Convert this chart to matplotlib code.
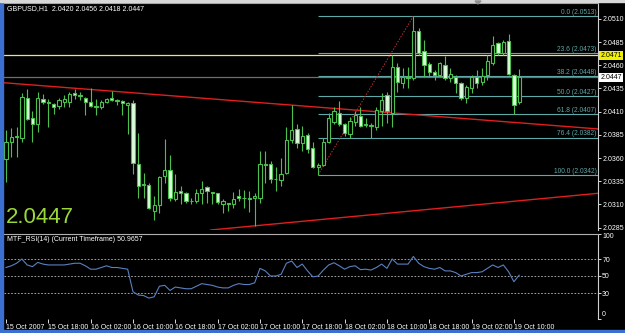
import numpy as np
import matplotlib.pyplot as plt
import matplotlib.transforms as mtransforms
from matplotlib.patches import Rectangle, Polygon

# GBPUSD H1, first bar 15 Oct 2007 10:00
opens = [2.0359, 2.0377, 2.0383, 2.0382, 2.0425, 2.0403, 2.0397, 2.0424, 2.0420, 2.0418,
         2.0416, 2.0420, 2.0420, 2.0430, 2.0428, 2.0425, 2.0420, 2.0416, 2.0415, 2.0420,
         2.0425, 2.0423, 2.0422, 2.0417, 2.0419, 2.0354, 2.0331, 2.0331, 2.0303, 2.0309,
         2.0341, 2.0347, 2.0316, 2.0324, 2.0322, 2.0314, 2.0314, 2.0322, 2.0329, 2.0323,
         2.0322, 2.0311, 2.0312, 2.0311, 2.0319, 2.0317, 2.0317, 2.0317, 2.0317, 2.0354,
         2.0354, 2.0337, 2.0336, 2.0344, 2.0379, 2.0391, 2.0376, 2.0385, 2.0371, 2.0350,
         2.0353, 2.0377, 2.0399, 2.0409, 2.0397, 2.0386, 2.0399, 2.0405, 2.0397, 2.0396,
         2.0393, 2.0411, 2.0428, 2.0409, 2.0458, 2.0441, 2.0447, 2.0446, 2.0497, 2.0475,
         2.0461, 2.0453, 2.0449, 2.0460, 2.0446, 2.0447, 2.0441, 2.0425, 2.0436, 2.0447,
         2.0442, 2.0449, 2.0462, 2.0484, 2.0473, 2.0486, 2.0449, 2.0420]
highs = [2.0390, 2.0392, 2.0393, 2.0430, 2.0434, 2.0411, 2.0431, 2.0429, 2.0424, 2.0419,
         2.0425, 2.0428, 2.0431, 2.0434, 2.0431, 2.0426, 2.0435, 2.0424, 2.0423, 2.0425,
         2.0432, 2.0424, 2.0423, 2.0420, 2.0423, 2.0387, 2.0344, 2.0333, 2.0319, 2.0341,
         2.0381, 2.0363, 2.0343, 2.0330, 2.0323, 2.0317, 2.0327, 2.0335, 2.0330, 2.0323,
         2.0322, 2.0316, 2.0312, 2.0323, 2.0327, 2.0326, 2.0325, 2.0322, 2.0368, 2.0368,
         2.0357, 2.0350, 2.0360, 2.0393, 2.0417, 2.0397, 2.0395, 2.0387, 2.0377, 2.0355,
         2.0382, 2.0409, 2.0415, 2.0422, 2.0398, 2.0404, 2.0411, 2.0415, 2.0403, 2.0398,
         2.0415, 2.0430, 2.0431, 2.0471, 2.0462, 2.0457, 2.0458, 2.0513, 2.0500, 2.0487,
         2.0463, 2.0455, 2.0463, 2.0470, 2.0457, 2.0449, 2.0442, 2.0439, 2.0449, 2.0455,
         2.0457, 2.0471, 2.0492, 2.0485, 2.0487, 2.0494, 2.0451, 2.0456]
lows = [2.0334, 2.0361, 2.0361, 2.0377, 2.0401, 2.0377, 2.0388, 2.0418, 2.0393, 2.0408,
        2.0413, 2.0415, 2.0415, 2.0424, 2.0423, 2.0406, 2.0415, 2.0406, 2.0413, 2.0419,
        2.0422, 2.0417, 2.0406, 2.0386, 2.0343, 2.0317, 2.0317, 2.0305, 2.0293, 2.0301,
        2.0333, 2.0314, 2.0314, 2.0311, 2.0312, 2.0311, 2.0312, 2.0311, 2.0312, 2.0311,
        2.0311, 2.0301, 2.0303, 2.0306, 2.0314, 2.0306, 2.0302, 2.0287, 2.0312, 2.0333,
        2.0333, 2.0325, 2.0330, 2.0343, 2.0376, 2.0371, 2.0368, 2.0365, 2.0349, 2.0342,
        2.0352, 2.0376, 2.0397, 2.0395, 2.0384, 2.0382, 2.0395, 2.0393, 2.0393, 2.0382,
        2.0390, 2.0395, 2.0398, 2.0393, 2.0431, 2.0436, 2.0436, 2.0444, 2.0471, 2.0447,
        2.0447, 2.0444, 2.0447, 2.0444, 2.0442, 2.0430, 2.0423, 2.0419, 2.0430, 2.0435,
        2.0439, 2.0444, 2.0460, 2.0471, 2.0471, 2.0449, 2.0407, 2.0418]
closes = [2.0377, 2.0383, 2.0384, 2.0426, 2.0402, 2.0397, 2.0425, 2.0420, 2.0419, 2.0415,
          2.0423, 2.0424, 2.0429, 2.0428, 2.0427, 2.0420, 2.0416, 2.0415, 2.0420, 2.0424,
          2.0423, 2.0422, 2.0419, 2.0419, 2.0355, 2.0330, 2.0332, 2.0306, 2.0309, 2.0340,
          2.0347, 2.0317, 2.0323, 2.0322, 2.0314, 2.0314, 2.0322, 2.0327, 2.0324, 2.0322,
          2.0313, 2.0314, 2.0311, 2.0316, 2.0317, 2.0317, 2.0316, 2.0319, 2.0354, 2.0353,
          2.0337, 2.0337, 2.0343, 2.0379, 2.0390, 2.0376, 2.0384, 2.0370, 2.0350, 2.0353,
          2.0377, 2.0403, 2.0411, 2.0397, 2.0387, 2.0400, 2.0406, 2.0395, 2.0396, 2.0395,
          2.0412, 2.0423, 2.0411, 2.0458, 2.0442, 2.0447, 2.0446, 2.0497, 2.0473, 2.0460,
          2.0453, 2.0450, 2.0462, 2.0446, 2.0451, 2.0441, 2.0425, 2.0437, 2.0447, 2.0441,
          2.0448, 2.0465, 2.0482, 2.0473, 2.0485, 2.0451, 2.0417, 2.0447]

rsi = [60, 62, 65, 70, 63, 61, 66, 64, 63, 63,
       63, 63, 64, 65, 65, 62, 58, 58, 60, 62,
       60, 60, 59, 58, 31.5, 27.6, 27, 24, 25.5, 38,
       39, 33, 37, 36, 35, 35, 38, 41, 40, 39,
       37, 36, 36, 39, 41, 40, 40, 42, 59, 56,
       50, 50, 52, 65, 67.6, 60, 64, 56, 49, 50,
       57, 63, 65.6, 62, 58, 61, 62, 57.5, 58, 57,
       60, 64, 59, 70, 64, 64, 64, 73, 65, 61,
       59, 58, 60, 56, 56, 54, 50, 52, 54, 54,
       55, 59, 63, 60, 63, 55, 43.3, 50.9657]

time_ticks = [0, 8, 16, 24, 32, 40, 48, 56, 64, 72, 80, 88, 96]
time_labels = ['15 Oct 2007', '15 Oct 18:00', '16 Oct 02:00', '16 Oct 10:00', '16 Oct 18:00',
               '17 Oct 02:00', '17 Oct 10:00', '17 Oct 18:00', '18 Oct 02:00', '18 Oct 10:00',
               '18 Oct 18:00', '19 Oct 02:00', '19 Oct 10:00']
price_ticks = [2.0285, 2.0310, 2.0335, 2.0360, 2.0385, 2.0410, 2.0435, 2.0460, 2.0485, 2.0510]

fib_start, fib_end = (59, 2.0342), (77, 2.0513)
fib_pcts = ['0.0', '23.6', '38.2', '50.0', '61.8', '76.4', '100.0']
fib_prices = [2.0513, 2.0473, 2.0448, 2.0427, 2.0407, 2.0382, 2.0342]
upper_trend = [(0, 2.0441), (97, 2.0398)]
lower_trend = [(47, 2.0287), (97, 2.0314)]
ask_line = 2.0471
bid_line = 2.0447

CANDLE = '#4cc04c'
BEAR_FILL = '#dcfadc'
FIB = '#5fa8a8'
W, H = 625, 333

plt.rcParams['font.family'] = ['Liberation Sans', 'DejaVu Sans']


def fx(px):
    return px / W


def fy(py):
    return 1 - py / H


fig = plt.figure(figsize=(6.25, 3.33), dpi=100, facecolor='black')

# main price panel
ax = fig.add_axes([fx(4), fy(230), fx(598) - fx(4), fy(3) - fy(230)])
ax.set_facecolor('black')
x = np.arange(len(closes))
o, h, l, c = map(np.array, (opens, highs, lows, closes))
up = c >= o

ax.axhline(bid_line, color='#6e6e6e', lw=0.9, zorder=1)
ax.axhline(ask_line, color='#e4e48c', lw=0.9, zorder=1)
ax.hlines(fib_prices, fib_start[0], 120, color=FIB, lw=0.8, zorder=1)
for pct, p in zip(fib_pcts, fib_prices):
    ax.text(111.6, p + 0.00003, f'{pct} ({p:.4f})', color=FIB, fontsize=4.8,
            ha='right', va='bottom')
ax.plot([fib_start[0], fib_end[0]], [fib_start[1], fib_end[1]], color='#c03030',
        lw=0.7, ls=(0, (1.5, 1.5)), zorder=1.5)
ax.axline(upper_trend[0], upper_trend[1], color='#e01e1e', lw=1.0, zorder=1.5)
ax.axline(lower_trend[0], lower_trend[1], color='#e01e1e', lw=1.0, zorder=1.5)

ax.vlines(x, l, h, color=CANDLE, lw=0.8, zorder=2)
ax.bar(x[up], c[up] - o[up], bottom=o[up], width=0.62, facecolor='black',
       edgecolor=CANDLE, lw=0.8, zorder=3)
ax.bar(x[~up], o[~up] - c[~up], bottom=c[~up], width=0.62, facecolor=BEAR_FILL,
       edgecolor=CANDLE, lw=0.8, zorder=3)

ax.set_xlim(-0.38, 111.9)
ax.set_ylim(2.02825, 2.05271)
ax.set_xticks([])
ax.yaxis.tick_right()
ax.set_yticks(price_ticks)
ax.set_yticklabels([f'{p:.4f}' for p in price_ticks])
ax.tick_params(axis='y', colors='white', length=2, width=0.6, pad=1, labelsize=5)
for side in ['left', 'bottom']:
    ax.spines[side].set_visible(False)
ax.spines['top'].set_color('#9a9a9a')
ax.spines['right'].set_color('#d0d0d0')
ax.spines['right'].set_linewidth(0.8)

blend = mtransforms.blended_transform_factory(ax.transAxes, ax.transData)
ax.text(1.004, ask_line, f'{ask_line:.4f}', transform=blend, fontsize=5, color='black',
        va='center', ha='left', bbox=dict(boxstyle='square,pad=0.15', fc='#f0f000', ec='none'))
ax.text(1.004, bid_line, f'{bid_line:.4f}', transform=blend, fontsize=5, color='black',
        va='center', ha='left', bbox=dict(boxstyle='square,pad=0.15', fc='white', ec='none'))

fig.text(fx(7), fy(5), f'GBPUSD,H1  {opens[-1]:.4f} {highs[-1]:.4f} {lows[-1]:.4f} {closes[-1]:.4f}',
         color='white', fontsize=5, va='top', ha='left')
fig.text(fx(6), fy(228), f'{closes[-1]:.4f}', color='#9ad83a', fontsize=16,
         va='bottom', ha='left')

# RSI panel
ax2 = fig.add_axes([fx(4), fy(318.5), fx(598) - fx(4), fy(233.5) - fy(318.5)])
ax2.set_facecolor('black')
for lvl in [70, 50, 30]:
    ax2.axhline(lvl, color='#bdbdbd', lw=0.6, ls=(0, (2, 2)))
ax2.plot(x, rsi, color='#5a80c0', lw=0.8)
ax2.set_xlim(-0.38, 111.9)
ax2.set_ylim(0, 100)
ax2.yaxis.tick_right()
ax2.set_yticks([100, 70, 50, 30, 0])
ax2.set_yticklabels(['100', '70', '50', '30', '0'])
ylabs = ax2.get_yticklabels()
ylabs[0].set_va('top')
ylabs[-1].set_va('bottom')
ax2.tick_params(axis='y', colors='white', length=2, width=0.6, pad=1, labelsize=5)
ax2.set_xticks(time_ticks)
ax2.set_xticklabels(time_labels)
for t in ax2.get_xticklabels():
    t.set_ha('left')
ax2.tick_params(axis='x', colors='white', length=3, width=0.6, pad=1, labelsize=5)
for side in ['left', 'bottom']:
    ax2.spines[side].set_visible(False)
ax2.spines['top'].set_color('#b0b0b0')
ax2.spines['right'].set_color('#d0d0d0')
ax2.spines['right'].set_linewidth(0.8)
fig.text(fx(7), fy(236), f'MTF_RSI(14) (Current Timeframe) {rsi[-1]:.4f}', color='white',
         fontsize=5, va='top', ha='left')

# window frame bits
fig.patches.append(Rectangle((0, 0), fx(3), 1, transform=fig.transFigure,
                             color='#3b6fd0', zorder=5))
fig.patches.append(Rectangle((0, 0), 1, fy(330), transform=fig.transFigure,
                             color='#3b6fd0', zorder=5))
fig.patches.append(Rectangle((0, fy(1.5)), 1, 1 - fy(1.5), transform=fig.transFigure,
                             color='#d8d8d8', zorder=5))
fig.patches.append(Polygon([(fx(475), fy(1)), (fx(481), fy(1)), (fx(478), fy(4))],
                           closed=True, transform=fig.transFigure, color='#909090', zorder=6))

fig.savefig('out.png', dpi=100, facecolor='black')
plt.close(fig)
